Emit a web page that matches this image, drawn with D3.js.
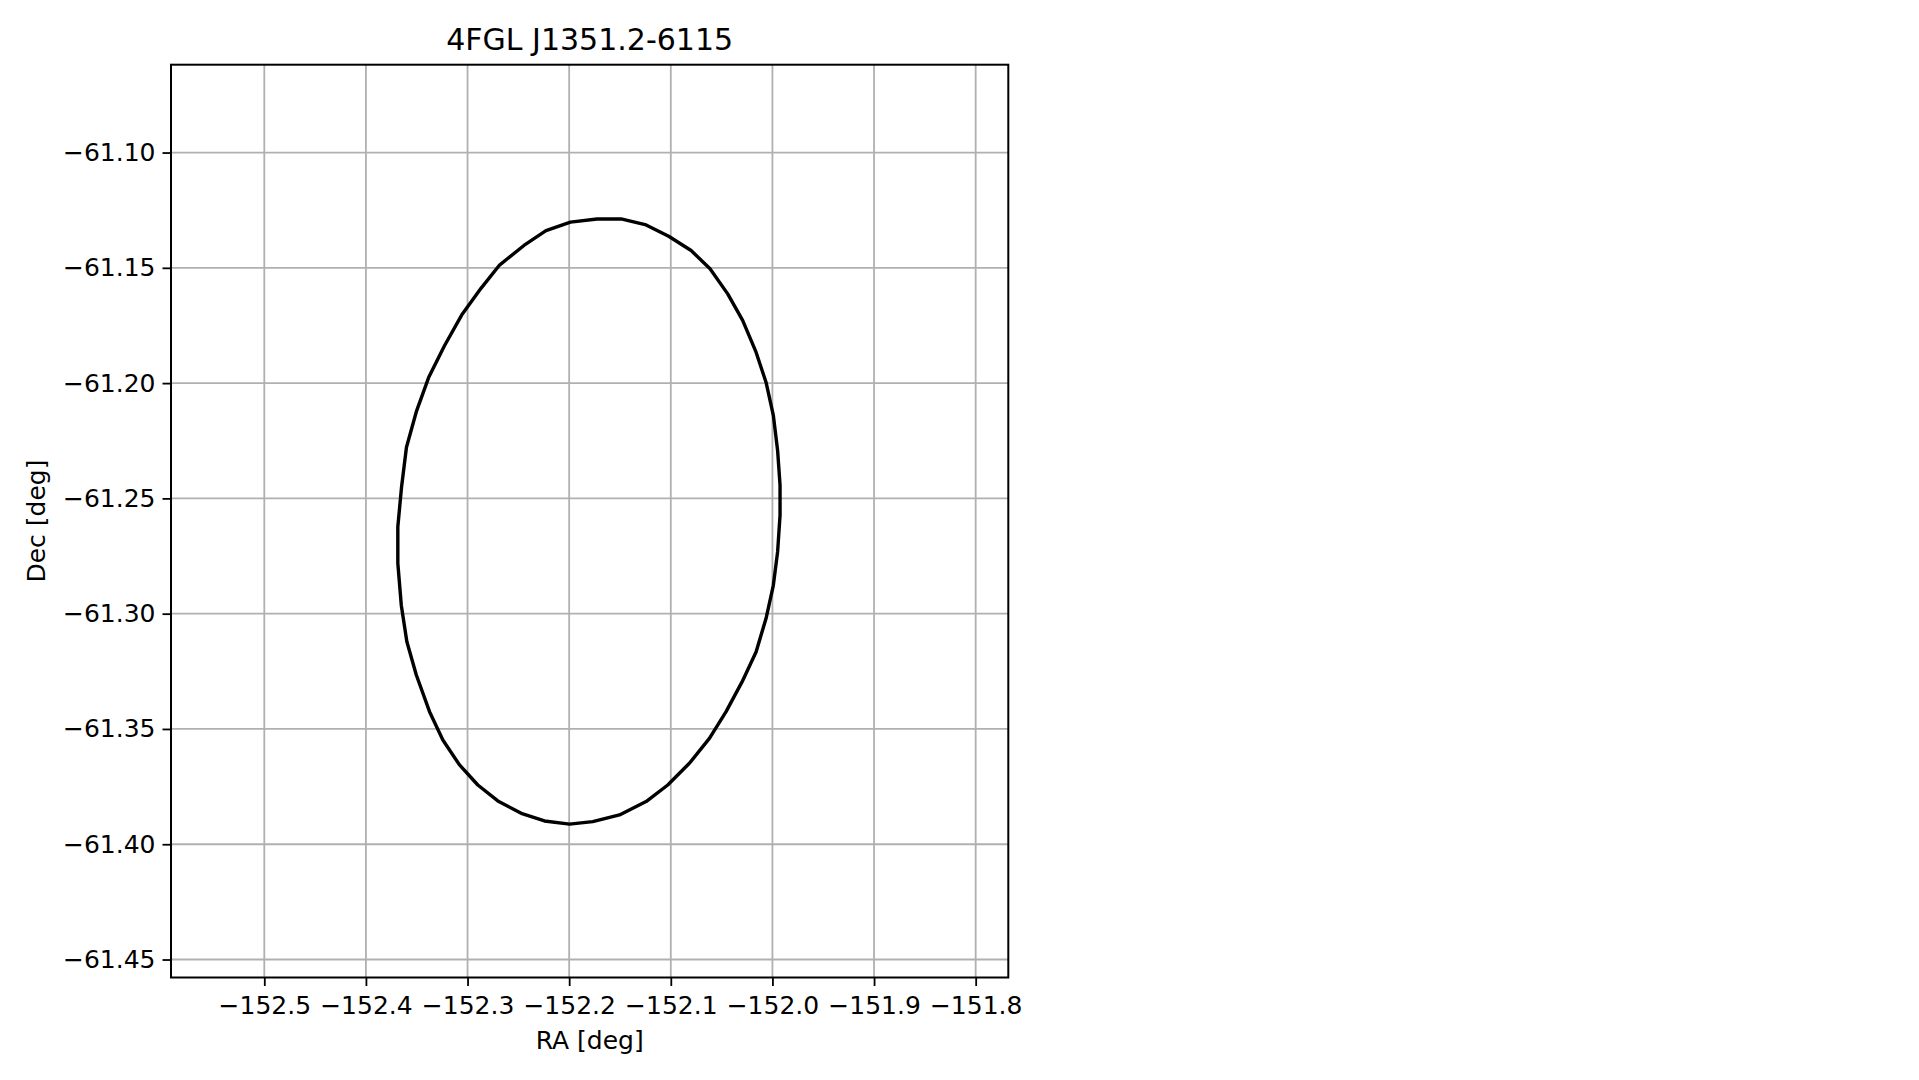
<!DOCTYPE html>
<html>
<head>
<meta charset="utf-8">
<script src="https://cdn.jsdelivr.net/npm/d3@7"></script>
<style>
  html, body { margin: 0; padding: 0; background: #ffffff; }
  svg { display: block; font-family: "DejaVu Sans", sans-serif; }
</style>
</head>
<body>
<script>
// ---- data ----
const title = "4FGL J1351.2-6115";
const xLabel = "RA [deg]";
const yLabel = "Dec [deg]";
const raTicks = [-152.5, -152.4, -152.3, -152.2, -152.1, -152.0, -151.9, -151.8];
const decTicks = [-61.10, -61.15, -61.20, -61.25, -61.30, -61.35, -61.40, -61.45];
const raDomain = [-152.5918, -151.7679];
const decDomain = [-61.4578, -61.0619];
// error ellipse outline vertices
const ellipseRA = [
  -152.1725, -152.1489, -152.1243, -152.1021, -152.0800, -152.0614, -152.0440, -152.0293, -152.0161, -152.0063, -151.9991, -151.9949, -151.9925,
  -151.9925, -151.9949, -151.9991, -152.0063, -152.0161, -152.0299, -152.0456, -152.0620, -152.0817, -152.1030, -152.1243, -152.1505, -152.1768, -152.1997, -152.2243, -152.2472, -152.2702, -152.2899, -152.3079, -152.3243, -152.3374, -152.3504, -152.3597, -152.3652, -152.3686, -152.3686,
  -152.3650, -152.3601, -152.3504, -152.3383, -152.3227, -152.3058, -152.2866, -152.2685, -152.2445, -152.2228, -152.1987
];
const ellipseDec = [
  -61.1288, -61.1288, -61.1314, -61.1363, -61.1425, -61.1504, -61.1613, -61.1728, -61.1866, -61.1996, -61.2140, -61.2292, -61.2443,
  -61.2573, -61.2732, -61.2877, -61.3021, -61.3166, -61.3296, -61.3425, -61.3541, -61.3649, -61.3743, -61.3815, -61.3873, -61.3902, -61.3913, -61.3899, -61.3866, -61.3812, -61.3743, -61.3656, -61.3548, -61.3425, -61.3266, -61.3122, -61.2963, -61.2782, -61.2623,
  -61.2453, -61.2278, -61.2124, -61.1976, -61.1838, -61.1705, -61.1588, -61.1488, -61.1403, -61.1339, -61.1302
];

// ---- layout ----
const W = 1919, H = 1080;
const plot = { left: 171, right: 1008.3, top: 64.7, bottom: 977.5 };
const tickFont = 25, labelFont = 25, titleFont = 30;

const svg = d3.select("body").append("svg").attr("width", W).attr("height", H);
svg.append("rect").attr("width", W).attr("height", H).attr("fill", "#ffffff");

const x = d3.scaleLinear().domain(raDomain).range([plot.left, plot.right]);
const y = d3.scaleLinear().domain(decDomain).range([plot.bottom, plot.top]);

// grid
const grid = svg.append("g").attr("class", "grid");
grid.selectAll("line.gx").data(raTicks).enter().append("line")
  .attr("x1", d => x(d)).attr("x2", d => x(d))
  .attr("y1", plot.top).attr("y2", plot.bottom)
  .attr("stroke", "#b0b0b0").attr("stroke-width", 1.8);
grid.selectAll("line.gy").data(decTicks).enter().append("line")
  .attr("y1", d => y(d)).attr("y2", d => y(d))
  .attr("x1", plot.left).attr("x2", plot.right)
  .attr("stroke", "#b0b0b0").attr("stroke-width", 1.8);

// ellipse
const pts = ellipseRA.map((r, i) => [r, ellipseDec[i]]);
const line = d3.line().x(d => x(d[0])).y(d => y(d[1])).curve(d3.curveLinearClosed);
svg.append("path").datum(pts).attr("d", line)
  .attr("fill", "none").attr("stroke", "#000000").attr("stroke-width", 3.4)
  .attr("stroke-linejoin", "round");

// axes
const fmtX = d3.format(".1f"), fmtY = d3.format(".2f");
const xAxis = d3.axisBottom(x).tickValues(raTicks).tickFormat(fmtX).tickSize(8.5).tickPadding(10);
const yAxis = d3.axisLeft(y).tickValues(decTicks).tickFormat(fmtY).tickSize(8.5).tickPadding(7);

const gx = svg.append("g").attr("transform", `translate(0,${plot.bottom})`).call(xAxis);
const gy = svg.append("g").attr("transform", `translate(${plot.left},0)`).call(yAxis);
[gx, gy].forEach(g => {
  g.select(".domain").remove();
  g.selectAll(".tick line").attr("stroke", "#000").attr("stroke-width", 1.8);
  g.selectAll(".tick text").attr("fill", "#000").attr("font-size", tickFont)
    .attr("font-family", "DejaVu Sans");
});

// frame
svg.append("rect")
  .attr("x", plot.left).attr("y", plot.top)
  .attr("width", plot.right - plot.left).attr("height", plot.bottom - plot.top)
  .attr("fill", "none").attr("stroke", "#000").attr("stroke-width", 2);

// labels
svg.append("text").attr("x", (plot.left + plot.right) / 2).attr("y", 50)
  .attr("text-anchor", "middle").attr("font-size", titleFont).attr("fill", "#000").text(title);
svg.append("text").attr("x", (plot.left + plot.right) / 2).attr("y", 1049)
  .attr("text-anchor", "middle").attr("font-size", labelFont).attr("fill", "#000").text(xLabel);
svg.append("text").attr("transform", `translate(45,${(plot.top + plot.bottom) / 2}) rotate(-90)`)
  .attr("text-anchor", "middle").attr("font-size", labelFont).attr("fill", "#000").text(yLabel);
</script>
</body>
</html>
